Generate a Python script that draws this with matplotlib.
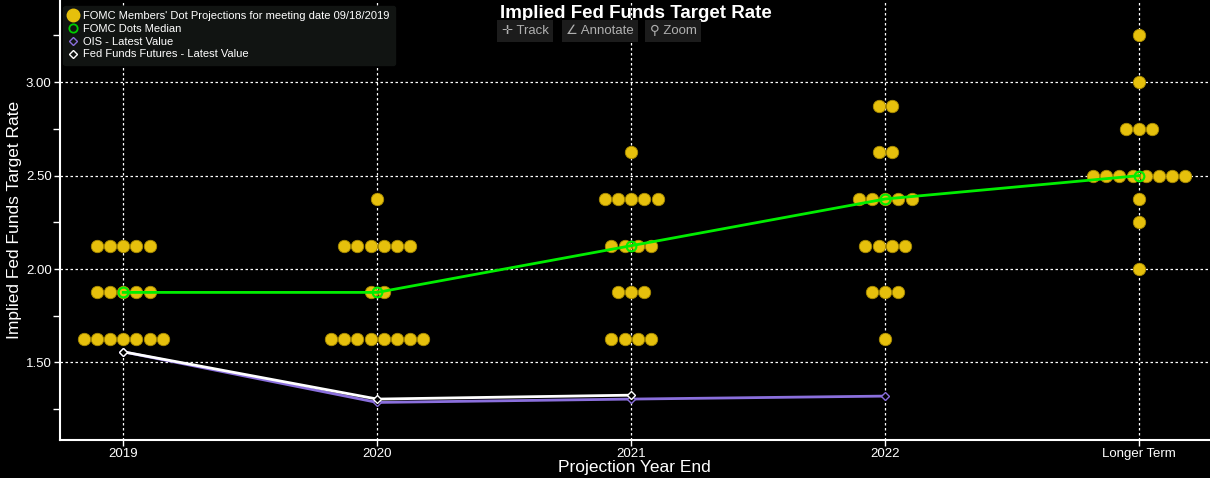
import numpy as np
import matplotlib
matplotlib.use("Agg")
import matplotlib.pyplot as plt
from matplotlib.lines import Line2D

# categories on the x axis
years = ["2019", "2020", "2021", "2022", "Longer Term"]

# FOMC dots: rate levels and number of members at each level, per year
dot_levels = [
    [1.625, 1.875, 2.125],
    [1.625, 1.875, 2.125, 2.375],
    [1.625, 1.875, 2.125, 2.375, 2.625],
    [1.625, 1.875, 2.125, 2.375, 2.625, 2.875],
    [2.00, 2.25, 2.375, 2.50, 2.75, 3.00, 3.25],
]
dot_counts = [
    [7, 5, 5],
    [8, 2, 6, 1],
    [4, 3, 4, 5, 1],
    [1, 3, 4, 5, 2, 2],
    [1, 1, 1, 8, 3, 1, 1],
]

median = [1.875, 1.875, 2.125, 2.375, 2.50]
ois = [1.557, 1.286, 1.304, 1.320]
fff = [1.557, 1.304, 1.325]

plt.rcParams['font.family'] = ['Liberation Sans', 'DejaVu Sans']

fig = plt.figure(figsize=(12.1, 4.78), dpi=100, facecolor='black')
ax = fig.add_axes([0.0496, 0.0795, 0.9494, 0.9205])
ax.set_facecolor('black')

x = np.arange(len(years))
step = 0.052  # horizontal spacing between dots at the same level

for i in range(len(years)):
    for lvl, n in zip(dot_levels[i], dot_counts[i]):
        xs = x[i] + (np.arange(n) - (n - 1) / 2) * step
        ax.scatter(xs, [lvl] * n, s=80, color='#e6c00c', edgecolors='#a88a00',
                   linewidths=0.6, zorder=3)

ax.plot(x, median, color='#00ee00', lw=2, zorder=4)
ax.plot(x, median, ls='none', marker='o', ms=7, mfc='none', mec='#00ee00',
        mew=1.5, zorder=5)
ax.plot(x[:len(ois)], ois, color='#8a6fdc', lw=2, marker='D', ms=4,
        mfc='black', mec='#8a6fdc', mew=1, zorder=4)
ax.plot(x[:len(fff)], fff, color='white', lw=2, marker='D', ms=4,
        mfc='black', mec='white', mew=1, zorder=4)

ax.set_xlim(-0.249, 4.274)
ax.set_ylim(1.085, 3.44)
ax.set_xticks(x)
ax.set_xticklabels(years)
ax.set_yticks([1.50, 2.00, 2.50, 3.00])
ax.set_yticklabels(["%.2f" % v for v in [1.50, 2.00, 2.50, 3.00]])
ax.set_yticks([1.25, 1.75, 2.25, 2.75, 3.25], minor=True)

ax.grid(True, color='white', ls=(0, (2, 2)), lw=0.9)
for s in ['top', 'right']:
    ax.spines[s].set_visible(False)
for s in ['left', 'bottom']:
    ax.spines[s].set_color('white')
    ax.spines[s].set_linewidth(1.5)
ax.tick_params(colors='white', labelsize=9.5, length=4, width=1, pad=2)
ax.tick_params(which='minor', colors='white', length=5, width=1)

ax.set_ylabel("Implied Fed Funds Target Rate", color='white', fontsize=12.5, labelpad=3)
ax.set_xlabel("Projection Year End", color='white', fontsize=12.5, labelpad=0)

handles = [
    Line2D([], [], ls='none', marker='o', ms=9, color='#e6c00c'),
    Line2D([], [], ls='none', marker='o', ms=6, mfc='none', mec='#00cc00', mew=1.3),
    Line2D([], [], ls='none', marker='D', ms=4, mfc='none', mec='#8a6fdc', mew=1),
    Line2D([], [], ls='none', marker='D', ms=4, mfc='none', mec='white', mew=1),
]
labels = [
    "FOMC Members' Dot Projections for meeting date 09/18/2019",
    "FOMC Dots Median",
    "OIS - Latest Value",
    "Fed Funds Futures - Latest Value",
]
leg = ax.legend(handles, labels, loc='upper left', bbox_to_anchor=(0.0, 0.995),
                fontsize=8, labelcolor='white', frameon=True, handlelength=0.8,
                handletextpad=0.5, labelspacing=0.25, borderpad=0.5,
                fancybox=True, borderaxespad=0.3)
leg.get_frame().set_facecolor('#111412')
leg.get_frame().set_edgecolor('#111412')
leg.get_frame().set_alpha(1)

fig.text(636 / 1210, 1 - 13 / 478, "Implied Fed Funds Target Rate", color='white',
         fontsize=13.5, fontweight='bold', ha='center', va='center')
for label, xc in [("\u271b Track", 525), ("\u2220 Annotate", 600), ("\u26b2 Zoom", 673)]:
    fig.text(xc / 1210, 1 - 31 / 478, label, color='#b0b0b0', fontsize=9.5,
             ha='center', va='center',
             bbox=dict(boxstyle='square,pad=0.35', fc='#1c1c1c', ec='none'))

fig.savefig("out.png", dpi=100, facecolor='black')
